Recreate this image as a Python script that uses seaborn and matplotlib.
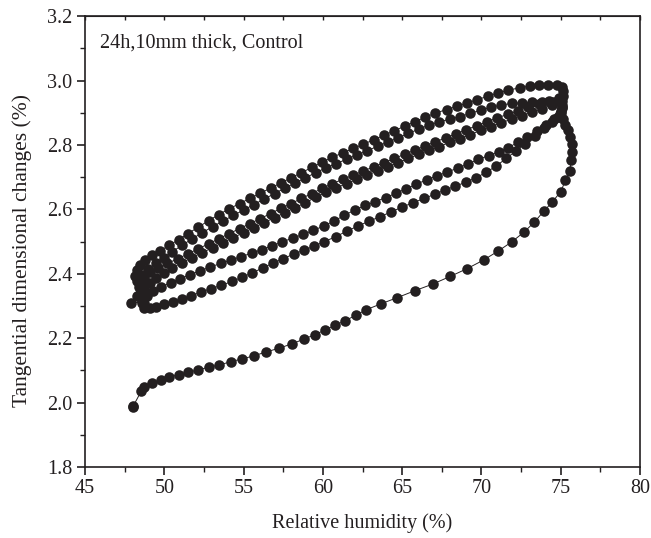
import numpy as np
import pandas as pd
import seaborn as sns
import matplotlib.pyplot as plt

# sweep 0: first adsorption from 48 % RH (bottom curve)
ads0_rh = [48.0, 48.05, 48.54, 48.75, 49.25, 49.77, 50.3, 50.9, 51.5, 52.15, 52.82, 53.48, 54.2, 54.92,
           55.65, 56.4, 57.25, 58.08, 58.8, 59.5, 60.12, 60.75, 61.4, 62.07, 62.72, 63.68, 64.7, 65.78,
           66.93, 68.04, 69.1, 70.15, 71.07, 71.94, 72.7, 73.33, 73.93, 74.47, 75.0, 75.3, 75.58, 75.66,
           75.74, 75.7, 75.6, 75.47, 75.3, 75.13, 75.03, 75.05, 75.1, 75.15]
ads0_dc = [1.986, 1.99, 2.035, 2.047, 2.061, 2.071, 2.08, 2.086, 2.094, 2.102, 2.11, 2.117, 2.127, 2.136,
           2.145, 2.157, 2.169, 2.183, 2.197, 2.211, 2.225, 2.24, 2.254, 2.271, 2.288, 2.307, 2.326, 2.347,
           2.368, 2.392, 2.416, 2.443, 2.471, 2.5, 2.53, 2.56, 2.594, 2.623, 2.655, 2.69, 2.72, 2.752,
           2.777, 2.804, 2.824, 2.845, 2.863, 2.881, 2.9, 2.918, 2.935, 2.952]

# sweep 1: desorption, outer upper line
des1_rh = [75.15, 75.05, 74.75, 74.2, 73.65, 73.05, 72.45, 71.7, 71.05, 70.4, 69.75, 69.1, 68.45, 67.8,
           67.1, 66.45, 65.8, 65.15, 64.5, 63.85, 63.2, 62.55, 61.9, 61.25, 60.6, 59.95, 59.3, 58.65,
           58.0, 57.35, 56.7, 56.05, 55.4, 54.75, 54.1, 53.45, 52.8, 52.15, 51.5, 50.9, 50.3, 49.75,
           49.25, 48.8, 48.45, 48.25, 48.18, 48.25, 48.38, 48.5, 48.6, 48.7]
des1_dc = [2.968, 2.979, 2.985, 2.987, 2.986, 2.983, 2.978, 2.97, 2.962, 2.951, 2.941, 2.93, 2.92, 2.91,
           2.899, 2.886, 2.872, 2.858, 2.844, 2.83, 2.816, 2.802, 2.789, 2.775, 2.762, 2.746, 2.73, 2.714,
           2.698, 2.682, 2.666, 2.65, 2.634, 2.618, 2.602, 2.584, 2.565, 2.545, 2.525, 2.506, 2.488, 2.472,
           2.457, 2.443, 2.428, 2.412, 2.394, 2.376, 2.36, 2.343, 2.325, 2.308]

# sweep 2: adsorption, lowest line of the loop
ads2_rh = [48.75, 49.1, 49.5, 50.0, 50.55, 51.1, 51.7, 52.3, 52.95, 53.6, 54.25, 54.9, 55.55, 56.2,
           56.85, 57.5, 58.15, 58.8, 59.45, 60.1, 60.8, 61.5, 62.2, 62.9, 63.6, 64.3, 65.0, 65.7,
           66.4, 67.05, 67.7, 68.35, 69.0, 69.65, 70.3, 70.95, 71.55, 72.15, 72.75, 73.35, 73.95, 74.45,
           74.85, 75.0, 75.05]
ads2_dc = [2.295, 2.294, 2.298, 2.305, 2.313, 2.322, 2.332, 2.343, 2.354, 2.364, 2.376, 2.389, 2.403, 2.418,
           2.433, 2.447, 2.461, 2.473, 2.486, 2.5, 2.515, 2.532, 2.548, 2.563, 2.577, 2.592, 2.607, 2.621,
           2.634, 2.647, 2.66, 2.672, 2.684, 2.698, 2.715, 2.735, 2.758, 2.78, 2.804, 2.828, 2.852, 2.872,
           2.888, 2.905, 2.925]

# sweep 3: desorption, second upper line
des3_rh = [74.5, 73.85, 73.2, 72.55, 71.9, 71.25, 70.6, 69.95, 69.3, 68.65, 68.0, 67.35, 66.7, 66.05,
           65.4, 64.75, 64.1, 63.45, 62.8, 62.15, 61.5, 60.85, 60.2, 59.55, 58.9, 58.25, 57.6, 56.95,
           56.3, 55.65, 55.0, 54.35, 53.7, 53.05, 52.4, 51.75, 51.1, 50.5, 49.95, 49.45, 49.0, 48.7,
           48.55, 48.5, 48.55, 48.6]
des3_dc = [2.933, 2.933, 2.932, 2.931, 2.929, 2.924, 2.917, 2.908, 2.898, 2.888, 2.88, 2.872, 2.862, 2.849,
           2.836, 2.822, 2.809, 2.796, 2.782, 2.769, 2.756, 2.742, 2.729, 2.714, 2.698, 2.682, 2.666, 2.649,
           2.632, 2.615, 2.598, 2.581, 2.564, 2.546, 2.528, 2.508, 2.488, 2.468, 2.45, 2.432, 2.414, 2.395,
           2.375, 2.355, 2.335, 2.315]

# sweep 4: adsorption, lower line of the loop
ads4_rh = [48.6, 48.9, 49.3, 49.8, 50.4, 51.0, 51.6, 52.25, 52.9, 53.55, 54.2, 54.85, 55.5, 56.15,
           56.8, 57.45, 58.1, 58.75, 59.4, 60.05, 60.7, 61.35, 62.0, 62.65, 63.3, 63.95, 64.6, 65.25,
           65.9, 66.55, 67.2, 67.85, 68.5, 69.15, 69.8, 70.45, 71.1, 71.7, 72.3, 72.9, 73.5, 74.1,
           74.6, 74.95, 75.05]
ads4_dc = [2.31, 2.33, 2.345, 2.36, 2.372, 2.385, 2.397, 2.409, 2.421, 2.432, 2.443, 2.453, 2.464, 2.475,
           2.487, 2.499, 2.511, 2.522, 2.535, 2.548, 2.564, 2.581, 2.598, 2.612, 2.624, 2.636, 2.65, 2.664,
           2.678, 2.692, 2.704, 2.716, 2.728, 2.741, 2.755, 2.767, 2.779, 2.792, 2.808, 2.824, 2.842, 2.861,
           2.88, 2.897, 2.915]

# sweep 5: desorption, middle line
des5_rh = [74.9, 74.25, 73.6, 72.95, 72.3, 71.65, 71.0, 70.35, 69.7, 69.05, 68.4, 67.75, 67.1, 66.45,
           65.8, 65.15, 64.5, 63.85, 63.2, 62.55, 61.9, 61.25, 60.6, 59.95, 59.3, 58.65, 58.0, 57.35,
           56.7, 56.05, 55.4, 54.75, 54.1, 53.45, 52.8, 52.15, 51.5, 50.85, 50.2, 49.6, 49.1, 48.75,
           48.6, 48.55, 48.6, 48.65]
des5_dc = [2.946, 2.937, 2.927, 2.917, 2.906, 2.895, 2.884, 2.872, 2.86, 2.847, 2.835, 2.822, 2.81, 2.797,
           2.784, 2.771, 2.758, 2.745, 2.732, 2.719, 2.706, 2.693, 2.68, 2.665, 2.649, 2.634, 2.618, 2.603,
           2.587, 2.571, 2.556, 2.54, 2.525, 2.509, 2.493, 2.478, 2.462, 2.447, 2.432, 2.418, 2.404, 2.388,
           2.37, 2.35, 2.33, 2.312]

# sweep 6: adsorption, just under the middle line
ads6_rh = [47.9, 48.3, 48.7, 49.1, 49.5, 49.95, 50.5, 51.1, 51.75, 52.4, 53.05, 53.7, 54.35, 55.0,
           55.65, 56.3, 56.95, 57.6, 58.25, 58.9, 59.55, 60.2, 60.85, 61.5, 62.15, 62.8, 63.45, 64.1,
           64.75, 65.4, 66.05, 66.7, 67.35, 68.0, 68.65, 69.3, 69.95, 70.6, 71.25, 71.9, 72.55, 73.2,
           73.85, 74.45, 74.9]
ads6_dc = [2.31, 2.33, 2.352, 2.372, 2.388, 2.402, 2.418, 2.434, 2.45, 2.466, 2.481, 2.497, 2.512, 2.528,
           2.543, 2.559, 2.574, 2.59, 2.605, 2.621, 2.637, 2.653, 2.667, 2.68, 2.693, 2.706, 2.719, 2.732,
           2.745, 2.758, 2.771, 2.783, 2.795, 2.808, 2.82, 2.832, 2.845, 2.857, 2.869, 2.88, 2.891, 2.902,
           2.913, 2.924, 2.935]

sweeps = [(ads0_rh, ads0_dc), (des1_rh, des1_dc), (ads2_rh, ads2_dc), (des3_rh, des3_dc),
          (ads4_rh, ads4_dc), (des5_rh, des5_dc), (ads6_rh, ads6_dc)]

rh = []
dc = []
for r, d in sweeps:
    rh += r
    dc += d
df = pd.DataFrame({"rh": rh, "dc": dc})

sns.set_style("ticks")
plt.rcParams['font.family'] = ['Liberation Serif', 'DejaVu Serif']

fig = plt.figure(figsize=(6.51, 5.38), dpi=100)
ax = fig.add_axes([0.1306, 0.132, 0.8525, 0.838])

sns.lineplot(data=df, x="rh", y="dc", sort=False, estimator=None, ax=ax,
             color="#231f20", linewidth=0.7, marker="o", markersize=7.6,
             markeredgewidth=0, markerfacecolor="#231f20")

ax.set_xlim(45, 80)
ax.set_ylim(1.8, 3.2)
ax.set_xticks(np.arange(45, 81, 5))
ax.set_xticks(np.arange(47.5, 80, 5), minor=True)
ax.set_yticks(np.round(np.arange(1.8, 3.21, 0.2), 1))
ax.set_yticks(np.round(np.arange(1.9, 3.2, 0.2), 1), minor=True)
ax.set_xticklabels([str(v) for v in range(45, 81, 5)])
ax.set_yticklabels(["%.1f" % v for v in np.arange(1.8, 3.21, 0.2)])

for s in ax.spines.values():
    s.set_linewidth(1.2)
    s.set_color("#231f20")
ax.tick_params(which="major", direction="out", length=6, width=1.2, labelsize=14.5,
               colors="#231f20", pad=3)
ax.tick_params(which="minor", direction="out", length=3.5, width=1.0, colors="#231f20")

top = ax.secondary_xaxis("top")
top.set_xticks(np.arange(45, 80.1, 2.5))
top.tick_params(direction="in", length=3, width=1.0, labeltop=False, colors="#231f20")

ax.set_xlabel("Relative humidity (%)", fontsize=14.5, labelpad=11, color="#231f20")
ax.set_ylabel("Tangential dimensional changes (%)", fontsize=15.5, color="#231f20")
ax.yaxis.set_label_coords(-0.095, 0.48)
ax.text(45.95, 3.117, "24h,10mm thick, Control", fontsize=14.5, va="center", ha="left",
        color="#231f20")

fig.savefig("out.png", dpi=100)
